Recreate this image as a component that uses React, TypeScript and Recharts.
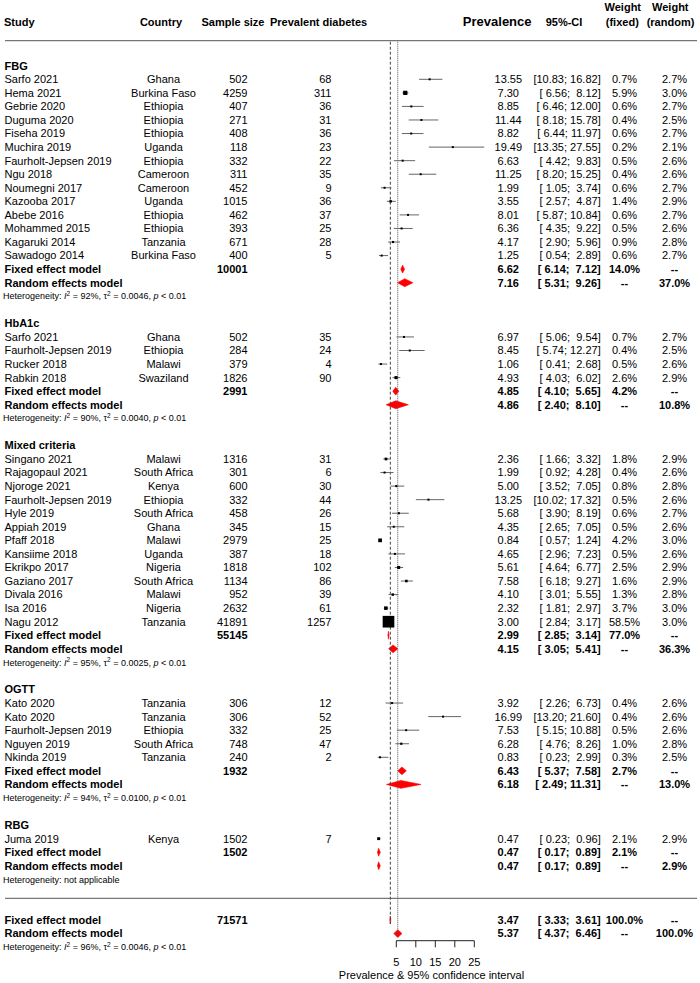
import React from 'react';
import {
  ComposedChart,
  Scatter,
  XAxis,
  YAxis,
  ErrorBar,
  ReferenceLine,
  ReferenceArea,
} from 'recharts';

const FONT = '"Liberation Sans", Arial, Helvetica, sans-serif';

// [study, country, sample size, prevalent diabetes, prevalence, lower, upper, weight fixed %, weight random %]
type Study = [string, string, number, number, number, number, number, number, number];

const groupNames = ['FBG', 'HbA1c', 'Mixed criteria', 'OGTT', 'RBG'];

const fbgStudies: Study[] = [
  ['Sarfo 2021', 'Ghana', 502, 68, 13.55, 10.83, 16.82, 0.7, 2.7],
  ['Hema 2021', 'Burkina Faso', 4259, 311, 7.3, 6.56, 8.12, 5.9, 3.0],
  ['Gebrie 2020', 'Ethiopia', 407, 36, 8.85, 6.46, 12.0, 0.6, 2.7],
  ['Duguma 2020', 'Ethiopia', 271, 31, 11.44, 8.18, 15.78, 0.4, 2.5],
  ['Fiseha 2019', 'Ethiopia', 408, 36, 8.82, 6.44, 11.97, 0.6, 2.7],
  ['Muchira 2019', 'Uganda', 118, 23, 19.49, 13.35, 27.55, 0.2, 2.1],
  ['Faurholt-Jepsen 2019', 'Ethiopia', 332, 22, 6.63, 4.42, 9.83, 0.5, 2.6],
  ['Ngu 2018', 'Cameroon', 311, 35, 11.25, 8.2, 15.25, 0.4, 2.6],
  ['Noumegni 2017', 'Cameroon', 452, 9, 1.99, 1.05, 3.74, 0.6, 2.7],
  ['Kazooba 2017', 'Uganda', 1015, 36, 3.55, 2.57, 4.87, 1.4, 2.9],
  ['Abebe 2016', 'Ethiopia', 462, 37, 8.01, 5.87, 10.84, 0.6, 2.7],
  ['Mohammed 2015', 'Ethiopia', 393, 25, 6.36, 4.35, 9.22, 0.5, 2.6],
  ['Kagaruki 2014', 'Tanzania', 671, 28, 4.17, 2.9, 5.96, 0.9, 2.8],
  ['Sawadogo 2014', 'Burkina Faso', 400, 5, 1.25, 0.54, 2.89, 0.6, 2.7],
];

const hba1cStudies: Study[] = [
  ['Sarfo 2021', 'Ghana', 502, 35, 6.97, 5.06, 9.54, 0.7, 2.7],
  ['Faurholt-Jepsen 2019', 'Ethiopia', 284, 24, 8.45, 5.74, 12.27, 0.4, 2.5],
  ['Rucker 2018', 'Malawi', 379, 4, 1.06, 0.41, 2.68, 0.5, 2.6],
  ['Rabkin 2018', 'Swaziland', 1826, 90, 4.93, 4.03, 6.02, 2.6, 2.9],
];

const mixedStudies: Study[] = [
  ['Singano 2021', 'Malawi', 1316, 31, 2.36, 1.66, 3.32, 1.8, 2.9],
  ['Rajagopaul 2021', 'South Africa', 301, 6, 1.99, 0.92, 4.28, 0.4, 2.6],
  ['Njoroge 2021', 'Kenya', 600, 30, 5.0, 3.52, 7.05, 0.8, 2.8],
  ['Faurholt-Jepsen 2019', 'Ethiopia', 332, 44, 13.25, 10.02, 17.32, 0.5, 2.6],
  ['Hyle 2019', 'South Africa', 458, 26, 5.68, 3.9, 8.19, 0.6, 2.7],
  ['Appiah 2019', 'Ghana', 345, 15, 4.35, 2.65, 7.05, 0.5, 2.6],
  ['Pfaff 2018', 'Malawi', 2979, 25, 0.84, 0.57, 1.24, 4.2, 3.0],
  ['Kansiime 2018', 'Uganda', 387, 18, 4.65, 2.96, 7.23, 0.5, 2.6],
  ['Ekrikpo 2017', 'Nigeria', 1818, 102, 5.61, 4.64, 6.77, 2.5, 2.9],
  ['Gaziano 2017', 'South Africa', 1134, 86, 7.58, 6.18, 9.27, 1.6, 2.9],
  ['Divala 2016', 'Malawi', 952, 39, 4.1, 3.01, 5.55, 1.3, 2.8],
  ['Isa 2016', 'Nigeria', 2632, 61, 2.32, 1.81, 2.97, 3.7, 3.0],
  ['Nagu 2012', 'Tanzania', 41891, 1257, 3.0, 2.84, 3.17, 58.5, 3.0],
];

const ogttStudies: Study[] = [
  ['Kato 2020', 'Tanzania', 306, 12, 3.92, 2.26, 6.73, 0.4, 2.6],
  ['Kato 2020', 'Tanzania', 306, 52, 16.99, 13.2, 21.6, 0.4, 2.6],
  ['Faurholt-Jepsen 2019', 'Ethiopia', 332, 25, 7.53, 5.15, 10.88, 0.5, 2.6],
  ['Nguyen 2019', 'South Africa', 748, 47, 6.28, 4.76, 8.26, 1.0, 2.8],
  ['Nkinda 2019', 'Tanzania', 240, 2, 0.83, 0.23, 2.99, 0.3, 2.5],
];

const rbgStudies: Study[] = [
  ['Juma 2019', 'Kenya', 1502, 7, 0.47, 0.23, 0.96, 2.1, 2.9],
];

// [total n, fixed est, fixed lower, fixed upper, fixed weight, random est, random lower, random upper, random weight]
const fbgSummary = [10001, 6.62, 6.14, 7.12, 14.0, 7.16, 5.31, 9.26, 37.0];
const hba1cSummary = [2991, 4.85, 4.1, 5.65, 4.2, 4.86, 2.4, 8.1, 10.8];
const mixedSummary = [55145, 2.99, 2.85, 3.14, 77.0, 4.15, 3.05, 5.41, 36.3];
const ogttSummary = [1932, 6.43, 5.37, 7.58, 2.7, 6.18, 2.49, 11.31, 13.0];
const rbgSummary = [1502, 0.47, 0.17, 0.89, 2.1, 0.47, 0.17, 0.89, 2.9];
const overallSummary = [71571, 3.47, 3.33, 3.61, 100.0, 5.37, 4.37, 6.46, 100.0];

// heterogeneity: [I2, tau2, p]
const fbgHet = ['92%', '0.0046', '< 0.01'];
const hba1cHet = ['90%', '0.0040', '< 0.01'];
const mixedHet = ['95%', '0.0025', '< 0.01'];
const ogttHet = ['94%', '0.0100', '< 0.01'];
const rbgHet: string[] | null = null;
const overallHet = ['96%', '0.0046', '< 0.01'];

const columnHeaders = ['Study', 'Country', 'Sample size', 'Prevalent diabetes', 'Prevalence', '95%-CI', 'Weight', 'Weight'];
const columnSubHeaders = ['(fixed)', '(random)'];
const xTicks = [5, 10, 15, 20, 25];
const axisTitle = 'Prevalence & 95% confidence interval';

// ---------- layout constants ----------
const W = 700;
const H = 983;
const X0PX = 376.8; // pixel of value 0
const PXU = 3.9; // pixels per unit
const ROW0 = 79.3; // pixel of first study row
const PITCH = 13.56;
const PLOT_BOTTOM = 947.3;
const X_DOMAIN: [number, number] = [-X0PX / PXU, (W - X0PX) / PXU];
const Y_DOMAIN: [number, number] = [-ROW0 / PITCH, (PLOT_BOTTOM - ROW0) / PITCH];
const pxToX = (px: number) => (px - X0PX) / PXU;
const pxToRow = (py: number) => (py - ROW0) / PITCH;

const COL = { study: 4.5, country: 163.5, n: 247.5, ev: 331.5, prev: 508.3, ci: 600.7, wf: 624.5, wr: 674.5 };

// ---------- build rows ----------
const groups = [
  { studies: fbgStudies, summary: fbgSummary, het: fbgHet },
  { studies: hba1cStudies, summary: hba1cSummary, het: hba1cHet },
  { studies: mixedStudies, summary: mixedSummary, het: mixedHet },
  { studies: ogttStudies, summary: ogttSummary, het: ogttHet },
  { studies: rbgStudies, summary: rbgSummary, het: rbgHet },
];

const textRows: any[] = [];
const studyPoints: any[] = [];
const diamonds: { r: number; est: number; lo: number; hi: number }[] = [];

textRows.push({ x: 0, r: pxToRow(7.5), kind: 'header2' });
textRows.push({ x: 0, r: pxToRow(21.7), kind: 'header' });

const addSummary = (r: number, S: number[], het: string[] | null) => {
  textRows.push({ x: 0, r, kind: 'fixed', n: S[0], est: S[1], lo: S[2], hi: S[3], w: S[4] });
  textRows.push({ x: 0, r: r + 1, kind: 'random', est: S[5], lo: S[6], hi: S[7], w: S[8] });
  textRows.push({ x: 0, r: r + 2, kind: 'het', het });
  diamonds.push({ r, est: S[1], lo: S[2], hi: S[3] });
  diamonds.push({ r: r + 1, est: S[5], lo: S[6], hi: S[7] });
};

let row = -1;
groups.forEach((g, gi) => {
  textRows.push({ x: 0, r: row, kind: 'group', label: groupNames[gi] });
  row++;
  g.studies.forEach((s) => {
    textRows.push({ x: 0, r: row, kind: 'study', s });
    studyPoints.push({ x: s[4], r: row, wf: s[7], err: [s[4] - s[5], s[6] - s[4]] });
    row++;
  });
  addSummary(row, g.summary, g.het);
  row += 4;
});
const overallRow = row + 1; // two blank rows after the last group
addSummary(overallRow, overallSummary, overallHet);
const fixedOverallRow = overallRow;
const randomOverallRow = overallRow + 1;

// ---------- formatting ----------
const f2 = (v: number) => v.toFixed(2);
const pad = (v: number) => (v < 10 ? ' ' : '') + v.toFixed(2);
const ciText = (lo: number, hi: number) => `[${pad(lo)}; ${pad(hi)}]`;
const pct = (v: number) => v.toFixed(1) + '%';

function T(props: {
  x: number;
  y: number;
  anchor?: 'start' | 'middle' | 'end';
  bold?: boolean;
  size?: number;
  children: React.ReactNode;
}) {
  const { x, y, anchor = 'start', bold = false, size = 11, children } = props;
  return (
    <text
      x={x}
      y={y}
      dy="0.355em"
      textAnchor={anchor}
      fontFamily={FONT}
      fontSize={size}
      fontWeight={bold ? 'bold' : 'normal'}
      fill="#000"
      style={{ whiteSpace: 'pre' }}
    >
      {children}
    </text>
  );
}

function TextShape(props: any) {
  const { cy, payload: p } = props;
  if (cy == null || !p) return <g />;
  const y = cy;
  switch (p.kind) {
    case 'header2':
      return (
        <g>
          <T x={622.8} y={y} anchor="middle" bold>{columnHeaders[6]}</T>
          <T x={670.3} y={y} anchor="middle" bold>{columnHeaders[7]}</T>
        </g>
      );
    case 'header':
      return (
        <g>
          <T x={4} y={y} bold>{columnHeaders[0]}</T>
          <T x={161} y={y} anchor="middle" bold>{columnHeaders[1]}</T>
          <T x={233} y={y} anchor="middle" bold>{columnHeaders[2]}</T>
          <T x={270} y={y} bold>{columnHeaders[3]}</T>
          <T x={497.2} y={y} anchor="middle" bold size={13}>{columnHeaders[4]}</T>
          <T x={564} y={y} anchor="middle" bold>{columnHeaders[5]}</T>
          <T x={622.3} y={y} anchor="middle" bold>{columnSubHeaders[0]}</T>
          <T x={670.5} y={y} anchor="middle" bold>{columnSubHeaders[1]}</T>
        </g>
      );
    case 'group':
      return <T x={COL.study} y={y} bold>{p.label}</T>;
    case 'study': {
      const s: Study = p.s;
      return (
        <g>
          <T x={COL.study} y={y}>{s[0]}</T>
          <T x={COL.country} y={y} anchor="middle">{s[1]}</T>
          <T x={COL.n} y={y} anchor="end">{String(s[2])}</T>
          <T x={COL.ev} y={y} anchor="end">{String(s[3])}</T>
          <T x={COL.prev} y={y} anchor="middle">{f2(s[4])}</T>
          <T x={COL.ci} y={y} anchor="end">{ciText(s[5], s[6])}</T>
          <T x={COL.wf} y={y} anchor="middle">{pct(s[7])}</T>
          <T x={COL.wr} y={y} anchor="middle">{pct(s[8])}</T>
        </g>
      );
    }
    case 'fixed':
      return (
        <g>
          <T x={COL.study} y={y} bold>Fixed effect model</T>
          <T x={COL.n} y={y} anchor="end" bold>{String(p.n)}</T>
          <T x={COL.prev} y={y} anchor="middle" bold>{f2(p.est)}</T>
          <T x={COL.ci} y={y} anchor="end" bold>{ciText(p.lo, p.hi)}</T>
          <T x={COL.wf} y={y} anchor="middle" bold>{pct(p.w)}</T>
          <T x={COL.wr} y={y} anchor="middle" bold>--</T>
        </g>
      );
    case 'random':
      return (
        <g>
          <T x={COL.study} y={y} bold>Random effects model</T>
          <T x={COL.prev} y={y} anchor="middle" bold>{f2(p.est)}</T>
          <T x={COL.ci} y={y} anchor="end" bold>{ciText(p.lo, p.hi)}</T>
          <T x={COL.wf} y={y} anchor="middle" bold>--</T>
          <T x={COL.wr} y={y} anchor="middle" bold>{pct(p.w)}</T>
        </g>
      );
    case 'het': {
      const h: string[] | null = p.het;
      if (!h) {
        return <T x={3} y={y} size={9}>Heterogeneity: not applicable</T>;
      }
      return (
        <text x={3} y={y} dy="0.355em" fontFamily={FONT} fontSize={9} fill="#000" style={{ whiteSpace: 'pre' }}>
          {'Heterogeneity: '}
          <tspan fontStyle="italic">I</tspan>
          <tspan dy={-3.2} fontSize={6.5}>2</tspan>
          <tspan dy={3.2}>{` = ${h[0]}, τ`}</tspan>
          <tspan dy={-3.2} fontSize={6.5}>2</tspan>
          <tspan dy={3.2}>{` = ${h[1]}, `}</tspan>
          <tspan fontStyle="italic">p</tspan>
          <tspan>{` ${h[2]}`}</tspan>
        </text>
      );
    }
    default:
      return <g />;
  }
}

const squareSide = (w: number) => Math.max(2, 1.42 * Math.sqrt(w) + 0.8);

function SquareShape(props: any) {
  const { cx, cy, payload } = props;
  if (cx == null || cy == null) return <g />;
  const s = squareSide(payload.wf);
  return <rect x={cx - s / 2} y={cy - s / 2} width={s} height={s} fill="#000" />;
}

const diamondShape = (f: number) => (props: any) => {
  const { x, y, width, height } = props;
  const ex = x + width * f;
  const my = y + height / 2;
  return (
    <polygon
      points={`${x},${my} ${ex},${y} ${x + width},${my} ${ex},${y + height}`}
      fill="#ff0000"
      stroke="#ff0000"
      strokeWidth={0.6}
    />
  );
};

const lineTopRow = pxToRow(41.7);
const DIAMOND_HALF = 0.29;

export default function App() {
  return (
    <div style={{ position: 'absolute', left: 0, top: 0, width: W, height: H, background: '#fff' }}>
      <ComposedChart width={W} height={H} margin={{ top: 0, right: 0, bottom: 0, left: 0 }}>
        <XAxis
          type="number"
          dataKey="x"
          domain={X_DOMAIN}
          ticks={xTicks}
          interval={0}
          axisLine={false}
          tickLine={{ stroke: '#222' }}
          tickSize={-6.6}
          tickMargin={17.1}
          height={H - PLOT_BOTTOM}
          tick={{ fontSize: 11, fill: '#000', fontFamily: FONT }}
          label={{
            value: axisTitle,
            position: 'insideBottom',
            offset: 4,
            dx: 81.5,
            fill: '#000',
            fontSize: 11,
            fontFamily: FONT,
          }}
        />
        <YAxis type="number" dataKey="r" domain={Y_DOMAIN} reversed hide />

        {/* separators */}
        <ReferenceLine
          segment={[{ x: pxToX(5), y: pxToRow(40.7) }, { x: pxToX(697), y: pxToRow(40.7) }]}
          stroke="#555"
          strokeWidth={1}
          ifOverflow="visible"
        />
        <ReferenceLine
          segment={[{ x: pxToX(5), y: pxToRow(898.3) }, { x: pxToX(697), y: pxToRow(898.3) }]}
          stroke="#555"
          strokeWidth={1}
          ifOverflow="visible"
        />
        {/* axis line */}
        <ReferenceLine
          segment={[{ x: xTicks[0], y: pxToRow(940.7) }, { x: xTicks[xTicks.length - 1], y: pxToRow(940.7) }]}
          stroke="#222"
          strokeWidth={1}
          ifOverflow="visible"
        />
        {/* overall fixed and random reference lines */}
        <ReferenceLine
          segment={[{ x: overallSummary[1], y: lineTopRow }, { x: overallSummary[1], y: fixedOverallRow + 0.3 }]}
          stroke="#444"
          strokeDasharray="3 2"
          strokeWidth={1}
          ifOverflow="visible"
        />
        <ReferenceLine
          segment={[{ x: overallSummary[5], y: lineTopRow }, { x: overallSummary[5], y: randomOverallRow + 0.3 }]}
          stroke="#555"
          strokeDasharray="1 1"
          strokeWidth={1}
          ifOverflow="visible"
        />

        {diamonds.map((d, i) => (
          <ReferenceArea
            key={`d${i}`}
            x1={d.lo}
            x2={d.hi}
            y1={d.r - DIAMOND_HALF}
            y2={d.r + DIAMOND_HALF}
            ifOverflow="visible"
            shape={diamondShape((d.est - d.lo) / (d.hi - d.lo))}
          />
        ))}

        <Scatter data={studyPoints} shape={SquareShape} isAnimationActive={false}>
          <ErrorBar dataKey="err" direction="x" width={0} stroke="#666" strokeWidth={1} isAnimationActive={false} />
        </Scatter>

        <Scatter data={textRows} shape={TextShape} isAnimationActive={false} />
      </ComposedChart>
    </div>
  );
}
